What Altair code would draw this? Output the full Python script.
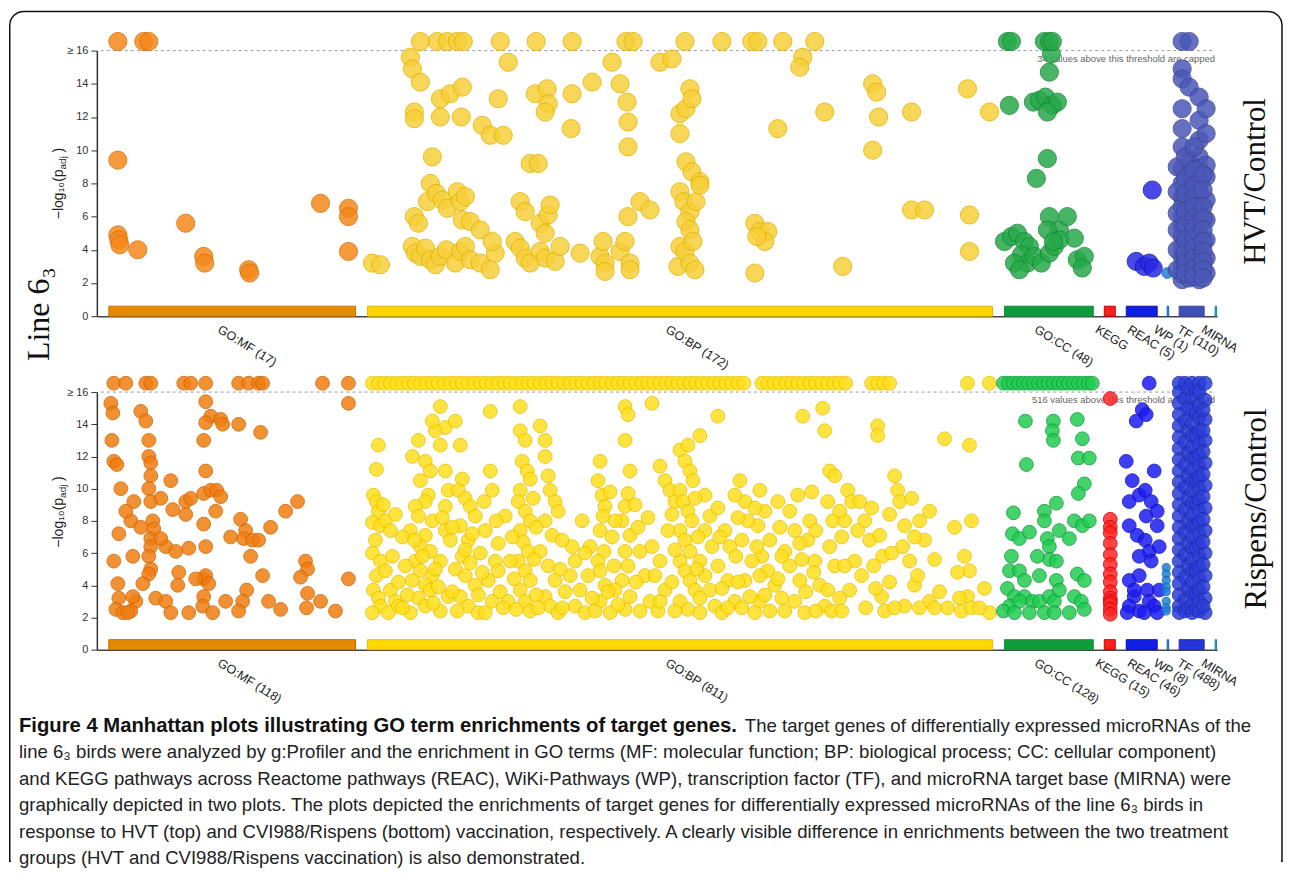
import altair as alt
import pandas as pd

# ---------------- categories / bars ----------------
CATS = ["GO:MF", "GO:BP", "GO:CC", "KEGG", "REAC", "WP", "TF", "MIRNA"]
BAR_START = [108, 367, 1005, 1105, 1127, 1168, 1180, 1216]
BAR_END = [355, 993, 1094, 1116, 1158, 1169.5, 1205, 1217.5]
COUNTS_TOP = ["(17)", "(172)", "(48)", "", "(5)", "(1)", "(110)", ""]
COUNTS_BOT = ["(118)", "(811)", "(128)", "(15)", "(46)", "(8)", "(488)", ""]
CAPPED_TOP = 34
CAPPED_BOT = 516
CAP = 16.55  # plotted position of capped values

# ---------------- top panel (HVT/Control) ----------------
top_mf = [(117, CAP), (143, CAP), (148, CAP), (117, 9.4), (117, 4.9), (118, 4.6), (119, 4.3),
          (137, 4.0), (185, 5.6), (203, 3.6), (204, 3.2), (248, 2.8), (249, 2.6), (320, 6.8),
          (348, 6.5), (348, 6.0), (348, 3.9)]
top_bp_capped = [420, 437, 447, 457, 463, 500, 536, 572, 626, 633, 685, 722, 752, 758, 783, 815]
top_bp = [(410, 15.6), (412, 14.9), (420, 14.1), (414, 12.3), (414, 11.9), (440, 13.1), (450, 13.4),
          (462, 13.8), (440, 12.0), (461, 12.0), (482, 11.5), (490, 10.9), (503, 10.9), (498, 13.1),
          (508, 15.3), (432, 9.6), (535, 13.4), (547, 13.7), (548, 12.8), (545, 12.3), (572, 13.4),
          (592, 14.1), (620, 14.0), (627, 12.9), (612, 15.3), (628, 11.7), (628, 10.2), (571, 11.3),
          (530, 9.2), (538, 9.2), (660, 15.3), (672, 15.5), (680, 12.2), (686, 12.5), (690, 13.7),
          (692, 13.1), (680, 11.0), (686, 9.3), (692, 8.7), (700, 8.1), (778, 11.3), (803, 15.6),
          (800, 15.0), (825, 12.3), (873, 14.0), (877, 13.5), (879, 12.0), (873, 10.0), (912, 12.3),
          (968, 13.7), (990, 12.3),
          (414, 6.0), (418, 5.6), (427, 6.9), (430, 8.0), (436, 7.4), (442, 7.0), (447, 6.5), (457, 7.5),
          (460, 6.9), (462, 5.8), (465, 7.2), (470, 5.7), (480, 5.2), (520, 6.9), (525, 6.3), (540, 5.6),
          (548, 6.1), (550, 6.7), (545, 5.0), (640, 6.9), (650, 6.4), (628, 6.0), (680, 7.5), (684, 6.9),
          (690, 6.3), (696, 6.9), (686, 5.7), (690, 5.2), (700, 7.9), (755, 5.6), (760, 5.1), (768, 5.1),
          (765, 4.5), (912, 6.4), (925, 6.4), (970, 6.1),
          (372, 3.2), (380, 3.1), (412, 4.2), (415, 3.8), (420, 3.6), (425, 4.1), (430, 3.4), (435, 3.1),
          (440, 3.6), (446, 4.0), (455, 3.2), (460, 3.9), (465, 4.2), (470, 3.4), (480, 3.2), (490, 2.8),
          (495, 3.8), (492, 4.5), (515, 4.5), (520, 4.1), (525, 3.5), (530, 3.2), (540, 3.9), (545, 3.5),
          (555, 3.3), (560, 4.2), (580, 3.8), (600, 3.6), (605, 3.2), (620, 3.9), (630, 3.2), (603, 4.5),
          (625, 4.5), (605, 2.7), (630, 2.8), (678, 3.0), (680, 4.2), (685, 3.9), (690, 3.2), (695, 2.8),
          (693, 4.5), (757, 4.8), (755, 2.6), (843, 3.0), (970, 3.9)]
top_cc_capped = [1008, 1012, 1045, 1050, 1053]
top_cc = [(1052, 15.8), (1050, 14.7), (1010, 12.7), (1034, 12.9), (1040, 13.0), (1046, 13.2),
          (1053, 12.7), (1058, 12.9), (1048, 12.3), (1037, 8.3), (1048, 9.5), (1050, 6.0), (1060, 5.2),
          (1068, 6.0), (1075, 4.7), (1005, 4.5), (1012, 4.8), (1018, 5.0), (1025, 4.5), (1030, 4.2),
          (1022, 3.7), (1028, 3.2), (1035, 3.6), (1042, 3.2), (1050, 3.8), (1055, 4.2), (1060, 4.6),
          (1078, 3.4), (1085, 3.6), (1083, 2.9), (1015, 3.2), (1020, 2.8), (1048, 5.2), (1054, 4.5)]
top_reac = [(1153, 7.6), (1137, 3.3), (1145, 3.0), (1150, 3.2), (1154, 2.9)]
top_wp = [(1168, 2.6)]
top_tf_cols = {
    1183: [CAP, 14.9, 14.3, 12.5, 11.3, 10.2, 8.9, 8.0, 7.2, 6.6, 6.0, 5.4, 4.8, 4.2, 3.6, 3.0, 2.5, 2.2],
    1190: [CAP, 13.8, 9.3, 8.5, 7.7, 6.9, 6.3, 5.7, 5.1, 4.5, 3.9, 3.3, 2.7, 2.3],
    1200: [13.2, 11.8, 10.6, 9.6, 8.9, 8.1, 7.5, 6.9, 6.2, 5.5, 4.9, 4.3, 3.7, 3.1, 2.5, 2.2],
    1207: [12.5, 11.0, 9.1, 8.4, 7.0, 5.8, 4.6, 3.5, 2.6],
    1178: [9.0, 7.5, 6.2, 5.2, 4.0, 2.8],
    1186: [9.6, 8.3, 7.4, 6.3, 5.5, 4.6, 3.8, 3.2, 2.6],
    1195: [10.2, 8.8, 7.9, 7.1, 6.6, 5.9, 5.3, 4.7, 4.1, 3.5, 2.9, 2.4],
    1204: [8.5, 7.6, 6.6, 5.9, 5.2, 4.5, 3.9, 3.3, 2.8, 2.3],
}

# ---------------- bottom panel (Rispens/Control) ----------------
bot_mf_capped = [113, 125, 145, 150, 183, 190, 205, 238, 248, 258, 262, 322, 348]
bot_mf = [(110, 15.3), (112, 14.7), (111, 13.0), (113, 11.7), (116, 11.5), (118, 7.2), (113, 5.5),
          (117, 4.1), (118, 3.2), (115, 2.5), (122, 2.3), (140, 14.8), (145, 14.2), (148, 13.0),
          (148, 12.0), (150, 11.6), (150, 10.8), (148, 10.0), (150, 9.2), (152, 8.0), (153, 7.5),
          (150, 6.9), (150, 6.4), (148, 5.8), (150, 5.0), (148, 4.7), (142, 4.1), (135, 3.0), (130, 2.4),
          (155, 3.2), (133, 9.2), (130, 8.0), (132, 5.8), (132, 3.3), (127, 2.3), (170, 10.5), (172, 8.7),
          (165, 6.4), (175, 6.1), (177, 4.0), (165, 3.0), (170, 2.3), (185, 9.2), (190, 9.4), (185, 8.4),
          (188, 6.3), (188, 2.3), (205, 15.4), (210, 14.5), (205, 14.1), (203, 13.0), (205, 11.1),
          (203, 9.7), (210, 9.9), (215, 8.6), (203, 7.8), (205, 6.4), (203, 4.4), (205, 4.6), (208, 4.1),
          (203, 3.3), (202, 2.7), (212, 2.3), (216, 9.9), (220, 14.3), (222, 14.0), (220, 9.5),
          (238, 14.0), (240, 8.1), (245, 7.4), (243, 6.9), (252, 6.8), (250, 5.8), (246, 3.7), (242, 3.0),
          (238, 2.4), (260, 13.5), (258, 6.8), (262, 4.6), (280, 2.5), (297, 9.2), (305, 5.5), (307, 5.0),
          (307, 3.5), (306, 2.6), (348, 15.3), (348, 4.4),
          (120, 10.0), (125, 8.6), (140, 7.6), (160, 9.4), (160, 6.9), (178, 4.8), (195, 4.4), (225, 3.0),
          (230, 7.0), (268, 3.0), (270, 7.6), (285, 8.6), (300, 4.5), (320, 3.0), (335, 2.4)]
bot_bp_capped = [372, 378, 384, 390, 396, 402, 408, 414, 420, 426, 432, 438, 444, 450, 456, 462, 468,
                 474, 480, 486, 492, 498, 504, 510, 516, 522, 528, 534, 540, 546, 552, 558, 564, 570,
                 576, 582, 588, 594, 600, 606, 612, 618, 624, 630, 636, 642, 648, 654, 660, 666, 672,
                 678, 684, 690, 696, 702, 708, 714, 720, 726, 732, 738, 744, 762, 768, 774, 780, 786,
                 792, 798, 804, 810, 816, 822, 828, 834, 840, 846, 872, 878, 884, 890, 968, 990]
bot_bp = [(378, 12.7), (376, 11.2), (373, 9.6), (376, 9.2), (378, 8.6), (372, 7.9), (380, 7.7),
          (375, 6.8), (372, 6.0), (380, 5.5), (376, 4.6), (373, 3.7), (378, 3.2), (380, 2.7), (372, 2.3),
          (385, 8.0), (390, 7.4), (392, 5.8), (385, 4.9), (390, 3.7), (395, 3.0), (388, 2.3), (398, 2.7),
          (412, 12.0), (418, 13.0), (425, 11.7), (430, 11.1), (420, 10.5), (428, 9.6), (425, 9.2),
          (415, 8.9), (418, 8.3), (432, 8.0), (410, 7.4), (425, 7.1), (420, 6.4), (430, 6.1), (415, 5.5),
          (420, 4.9), (432, 4.6), (412, 4.3), (425, 4.0), (430, 3.7), (418, 3.2), (425, 2.7), (440, 2.4),
          (410, 2.3), (445, 7.4), (440, 5.5), (448, 3.3), (440, 15.1), (445, 13.8), (435, 13.6),
          (432, 14.2), (440, 12.7), (445, 11.1), (448, 9.9), (445, 8.9), (450, 6.8),
          (455, 14.2), (460, 12.7), (462, 10.6), (458, 9.9), (465, 9.4), (470, 8.9), (475, 8.3),
          (460, 7.7), (468, 6.8), (462, 5.8), (470, 5.4), (465, 4.6), (475, 4.0), (460, 3.3), (468, 2.7),
          (478, 2.3), (490, 11.1), (492, 9.9), (485, 7.4), (495, 5.5), (488, 4.3), (492, 3.0), (485, 2.3),
          (498, 4.9), (490, 14.8),
          (520, 15.1), (520, 13.6), (525, 13.0), (522, 11.7), (527, 11.1), (530, 10.6), (520, 9.9),
          (518, 9.2), (525, 8.6), (530, 8.0), (520, 7.4), (523, 6.7), (528, 6.1), (518, 5.5), (525, 4.9),
          (530, 4.3), (520, 3.7), (525, 3.0), (530, 2.4), (540, 13.9), (545, 13.0), (545, 12.0),
          (548, 10.8), (550, 9.9), (555, 9.2), (545, 8.0), (552, 7.1), (540, 6.1), (548, 5.2), (555, 4.3),
          (545, 3.3), (550, 2.7), (558, 2.3), (505, 8.3), (510, 5.5), (508, 3.0),
          (572, 6.4), (575, 5.5), (570, 4.6), (580, 3.7), (575, 2.7), (585, 2.3), (600, 11.7), (598, 10.5),
          (602, 9.6), (605, 8.9), (603, 8.3), (600, 7.4), (604, 6.1), (598, 5.5), (600, 4.9), (605, 4.0),
          (600, 3.0), (610, 2.3), (625, 15.1), (628, 14.6), (625, 13.0), (630, 11.1), (628, 9.7),
          (625, 8.9), (622, 8.0), (630, 7.1), (625, 6.1), (628, 5.2), (622, 4.3), (630, 3.3), (625, 2.5),
          (640, 6.1), (645, 4.6), (650, 3.0), (615, 8.0), (615, 3.7), (590, 6.4),
          (652, 15.3), (660, 11.4), (665, 10.5), (670, 9.9), (675, 9.2), (680, 12.4), (688, 12.7),
          (685, 11.7), (690, 11.1), (693, 10.5), (680, 9.9), (683, 9.2), (688, 8.6), (692, 8.0),
          (680, 7.4), (685, 6.8), (690, 6.1), (680, 5.5), (685, 4.9), (690, 4.3), (695, 3.7), (680, 3.0),
          (688, 2.5), (700, 2.3), (700, 13.3), (705, 9.6), (710, 8.3), (705, 7.4), (712, 6.4), (700, 5.5),
          (705, 4.6), (710, 3.7), (715, 2.7), (725, 7.4), (730, 6.4), (728, 4.3), (735, 3.0), (722, 2.3),
          (668, 7.4), (660, 5.5), (665, 3.7), (658, 2.4), (718, 14.5),
          (760, 9.9), (765, 8.6), (758, 7.7), (770, 6.8), (762, 5.8), (768, 4.9), (775, 4.0), (760, 3.0),
          (770, 2.4), (740, 10.5), (745, 9.2), (748, 8.0), (742, 6.8), (752, 5.5), (745, 4.3), (750, 3.3),
          (755, 2.3), (790, 8.6), (795, 7.4), (785, 6.1), (790, 5.2), (800, 4.3), (795, 3.0), (805, 2.3),
          (803, 14.5), (810, 8.0), (808, 6.8), (815, 5.5), (820, 4.0), (825, 2.7), (823, 15.0),
          (825, 13.6), (830, 11.1), (835, 10.8), (828, 9.2), (833, 8.0), (830, 6.4), (835, 5.2),
          (828, 3.7), (832, 2.4),
          (848, 9.9), (852, 9.2), (845, 8.0), (855, 5.5), (850, 3.7), (860, 9.2), (865, 8.0), (870, 6.8),
          (878, 13.9), (878, 13.3), (880, 7.1), (883, 5.8), (882, 3.3), (885, 2.4), (895, 10.8),
          (898, 9.9), (900, 9.2), (905, 7.7), (903, 6.4), (910, 5.5), (915, 4.0), (905, 2.7), (920, 8.0),
          (925, 6.8), (930, 3.0), (935, 2.6), (945, 13.1), (948, 2.6), (962, 2.4), (970, 12.7),
          (972, 8.0), (970, 4.9), (968, 3.3), (972, 2.6), (990, 2.3)]
bot_bp_more = [(383, 9.0), (395, 8.4), (402, 7.0), (405, 5.2), (398, 4.2), (407, 3.4), (402, 2.6),
               (414, 6.8), (422, 5.8), (435, 5.0), (438, 3.9), (433, 2.9), (442, 8.2), (452, 7.6),
               (455, 5.0), (452, 3.6), (457, 2.4), (465, 6.2), (472, 7.2), (480, 6.0), (482, 4.8),
               (478, 3.4), (484, 9.2), (496, 8.0), (498, 6.6), (500, 3.6), (503, 2.6), (512, 7.0),
               (514, 4.4), (516, 2.5), (533, 9.4), (536, 7.6), (534, 5.6), (536, 3.4), (538, 2.6),
               (558, 8.6), (562, 6.8), (560, 5.0), (565, 3.6), (562, 2.6), (582, 8.0), (585, 6.0),
               (588, 4.6), (592, 3.2), (595, 2.4), (610, 9.8), (612, 7.0), (614, 5.2), (608, 3.6),
               (618, 2.8), (635, 9.0), (638, 7.6), (636, 4.2), (640, 2.4), (648, 8.2), (652, 6.4),
               (655, 4.6), (660, 3.0), (672, 8.4), (675, 6.2), (672, 4.2), (675, 2.4), (695, 9.4),
               (698, 7.0), (697, 5.0), (700, 3.2), (718, 8.8), (720, 7.0), (718, 5.2), (722, 3.8),
               (728, 2.6), (735, 9.6), (738, 8.2), (736, 5.8), (738, 4.2), (742, 2.6), (755, 8.8),
               (757, 6.4), (760, 4.6), (765, 3.4), (778, 9.2), (780, 7.6), (782, 5.8), (778, 4.4),
               (782, 3.2), (785, 2.4), (798, 9.6), (800, 6.6), (802, 5.6), (806, 3.6), (812, 9.8),
               (816, 7.4), (814, 4.8), (816, 2.4), (840, 8.6), (842, 7.0), (845, 5.2), (840, 3.2),
               (842, 2.4), (858, 7.4), (862, 4.6), (866, 2.6), (872, 8.8), (874, 5.2), (876, 3.8),
               (890, 8.4), (892, 6.0), (890, 4.2), (895, 2.6), (912, 9.4), (915, 7.0), (918, 4.6),
               (920, 2.6), (930, 8.6), (935, 5.6), (940, 3.6), (955, 7.6), (958, 4.8), (960, 3.2),
               (965, 5.8), (985, 3.8), (980, 2.6)]
bot_cc_capped = [1004, 1009, 1014, 1019, 1024, 1029, 1034, 1039, 1044, 1049, 1054, 1059, 1064, 1069,
                 1074, 1079, 1084, 1089, 1093]
bot_cc = [(1026, 14.2), (1054, 14.2), (1078, 14.3), (1053, 13.6), (1054, 13.0), (1083, 13.1),
          (1027, 11.5), (1079, 11.9), (1090, 11.9), (1085, 10.3), (1079, 9.7), (1014, 8.5), (1045, 8.6),
          (1057, 9.1), (1045, 8.0), (1013, 7.2), (1020, 6.9), (1030, 7.3), (1048, 6.9), (1050, 6.4),
          (1060, 7.4), (1070, 6.9), (1075, 8.0), (1083, 7.7), (1090, 8.0), (1050, 5.6), (1038, 5.8),
          (1012, 5.8), (1010, 4.9), (1020, 4.9), (1025, 4.3), (1040, 4.6), (1057, 5.5), (1057, 4.3),
          (1078, 4.7), (1085, 4.3), (1008, 3.8), (1015, 3.3), (1025, 3.3), (1033, 3.0), (1010, 2.7),
          (1020, 3.0), (1040, 3.0), (1050, 3.3), (1055, 3.0), (1060, 3.7), (1075, 3.3), (1082, 3.0),
          (1004, 2.4), (1015, 2.3), (1030, 2.3), (1045, 2.3), (1055, 2.3), (1070, 2.3), (1085, 2.5)]
bot_kegg = [(1111, 15.6), (1111, 8.1), (1111, 7.6), (1111, 7.25), (1111, 6.6), (1111, 5.9), (1111, 5.3),
            (1111, 4.7), (1111, 4.2), (1111, 3.6), (1111, 3.2), (1111, 3.0), (1111, 2.85), (1111, 2.5),
            (1111, 2.2)]
bot_reac = [(1150, CAP), (1143, 14.9), (1137, 14.2), (1147, 14.6), (1127, 11.7), (1133, 10.5),
            (1155, 11.1), (1130, 9.2), (1140, 9.6), (1146, 9.9), (1152, 9.2), (1147, 8.3), (1158, 8.6),
            (1130, 7.7), (1138, 7.1), (1146, 6.8), (1150, 6.1), (1158, 7.7), (1160, 6.4), (1140, 5.8),
            (1152, 5.5), (1130, 4.3), (1140, 4.6), (1148, 3.7), (1135, 3.3), (1150, 3.0), (1130, 2.7),
            (1140, 2.4), (1155, 2.7), (1145, 2.3), (1160, 3.7), (1128, 2.3), (1158, 2.3), (1135, 3.7)]
bot_wp = [(1167, 5.1), (1167, 4.7), (1167, 4.3), (1167, 3.9), (1167, 3.6), (1167, 3.0), (1167, 2.6),
          (1167, 2.4)]
bot_tf_cols = {
    1180: [CAP, 16.0, 15.3, 14.6, 13.9, 13.2, 12.5, 11.8, 11.1, 10.4, 9.7, 9.0, 8.3, 7.6, 6.9, 6.2, 5.5,
           4.8, 4.1, 3.4, 2.7, 2.3],
    1186: [CAP, 15.6, 14.2, 12.9, 11.5, 10.1, 8.7, 7.3, 5.9, 4.5, 3.1, 2.4],
    1189: [16.2, 15.0, 13.6, 12.2, 10.8, 9.4, 8.0, 6.6, 5.2, 3.8, 2.6],
    1193: [CAP, 15.7, 14.9, 14.1, 13.3, 12.6, 11.9, 11.2, 10.5, 9.8, 9.1, 8.4, 7.7, 7.0, 6.3, 5.6, 4.9,
           4.2, 3.5, 2.8, 2.3],
    1197: [16.1, 14.7, 13.3, 11.9, 10.5, 9.1, 7.7, 6.3, 4.9, 3.5, 2.5],
    1200: [CAP, 16.0, 15.2, 14.4, 13.6, 12.8, 12.1, 11.4, 10.7, 10.0, 9.3, 8.6, 7.9, 7.2, 6.5, 5.8, 5.1,
           4.4, 3.7, 3.0, 2.4],
    1206: [CAP, 15.5, 14.3, 13.0, 11.6, 10.2, 8.8, 7.4, 6.0, 4.6, 3.2, 2.3],
    1204: [14.9, 13.6, 12.3, 10.9, 9.5, 8.1, 6.7, 5.3, 3.9, 2.7],
}

CAPTION_BOLD = "Figure 4  Manhattan plots illustrating GO term enrichments of target genes."
CAPTION_LINES = [
    "The target genes of differentially expressed microRNAs of the",
    "line 6\u2083 birds were analyzed by g:Profiler and the enrichment in GO terms (MF: molecular function; BP: biological process; CC: cellular component)",
    "and KEGG pathways across Reactome pathways (REAC), WiKi-Pathways (WP), transcription factor (TF), and microRNA target base (MIRNA) were",
    "graphically depicted in two plots. The plots depicted the enrichments of target genes for differentially expressed microRNAs of the line 6\u2083 birds in",
    "response to HVT (top) and CVI988/Rispens (bottom) vaccination, respectively. A clearly visible difference in enrichments between the two treatment",
    "groups (HVT and CVI988/Rispens vaccination) is also demonstrated.",
]

# ---------------- styles ----------------
TOP_PT = ["#F5891C", "#F7CF3A", "#27A94B", "#FF2B2B", "#2A2AE6", "#1E7FD8", "#4B58B8", "#26A9CC"]
TOP_STROKE = ["#D86F00", "#E3B400", "#178A35", "#CC0000", "#1515B0", "#1565B0", "#3A4699", "#1C86A3"]
BOT_PT = ["#F07E10", "#FFE01E", "#22CC52", "#FF2525", "#1C1CF2", "#1E7FD8", "#2B3ED8", "#26A9CC"]
BOT_STROKE = ["#CF6400", "#EAC000", "#12993A", "#D00000", "#0F0FB8", "#1565B0", "#1E2CA8", "#1C86A3"]
TOP_BAR = ["#E68A00", "#FFD700", "#0E9C3A", "#FF1E1E", "#0F1FE8", "#2A8FE0", "#3F4FB5", "#2AA8D0"]
BOT_BAR = ["#E68A00", "#FFD700", "#0E9C3A", "#FF1E1E", "#0F1FE8", "#2A8FE0", "#2436D8", "#2AA8D0"]

W = 1122
X0 = 96
H_TOP = 266
H_BOT = 258
SANS = "Liberation Sans"
SERIF = "Liberation Serif"


def build_points(groups, capped, tf_cols):
    rows = []
    for cat, pts in groups:
        for x, v in pts:
            rows.append({"cat": cat, "x": x, "v": v})
    for cat, xs in capped:
        for x in xs:
            rows.append({"cat": cat, "x": x, "v": CAP})
    for x, vals in tf_cols.items():
        for v in vals:
            rows.append({"cat": "TF", "x": x, "v": v})
    return pd.DataFrame(rows)


top_points = build_points(
    [("GO:MF", top_mf), ("GO:BP", top_bp), ("GO:CC", top_cc), ("REAC", top_reac), ("WP", top_wp)],
    [("GO:BP", top_bp_capped), ("GO:CC", top_cc_capped)], top_tf_cols)
bot_points = build_points(
    [("GO:MF", bot_mf), ("GO:BP", bot_bp), ("GO:BP", bot_bp_more), ("GO:CC", bot_cc),
     ("KEGG", bot_kegg), ("REAC", bot_reac), ("WP", bot_wp)],
    [("GO:MF", bot_mf_capped), ("GO:BP", bot_bp_capped), ("GO:CC", bot_cc_capped)], bot_tf_cols)

one = pd.DataFrame({"k": [0]})


def panel(points, counts, n_capped, H, pt_cols, stroke_cols, bar_cols, pt_size, side_label,
          side_xy, title_junction, extra=None):
    xs = alt.Scale(domain=[X0, X0 + W], nice=False, zero=False)
    ys = alt.Scale(domain=[0, 16], nice=False, zero=False)
    xaxis = alt.Axis(labels=False, ticks=False, title=None, grid=False, domainColor="#444",
                     domainWidth=1.5)
    yaxis = alt.Axis(values=list(range(0, 17, 2)), title=None, grid=False,
                     labelExpr="datum.value == 16 ? '\u2265 16' : datum.label",
                     domainColor="#333", domainWidth=1.5, tickColor="#333", tickSize=6,
                     labelFont=SANS, labelFontSize=11, labelColor="#333", labelPadding=3)
    stroke_scale = alt.Scale(domain=CATS, range=stroke_cols)

    thr = pd.DataFrame({"x0": [100], "x1": [1216], "t": [16]})
    rule = alt.Chart(thr).mark_rule(strokeDash=[3, 3], color="#9a9a9a", strokeWidth=1).encode(
        x=alt.X("x0:Q", scale=xs, axis=xaxis), x2="x1:Q",
        y=alt.Y("t:Q", scale=ys, axis=yaxis))

    note = alt.Chart(one).mark_text(align="right", baseline="top", fontSize=9.5, font=SANS,
                                     color="#666").encode(
        x=alt.value(1216 - X0), y=alt.value(3),
        text=alt.value(f"{n_capped} values above this threshold are capped"))

    bars_df = pd.DataFrame({"cat": CATS, "start": BAR_START, "end": BAR_END})
    bars = alt.Chart(bars_df).mark_rect(strokeWidth=1).encode(
        x=alt.X("start:Q", scale=xs, axis=xaxis), x2="end:Q",
        y=alt.value(H - 10), y2=alt.value(H),
        fill=alt.Fill("cat:N", scale=alt.Scale(domain=CATS, range=bar_cols), legend=None),
        stroke=alt.Stroke("cat:N", scale=stroke_scale, legend=None))

    pts = alt.Chart(points).mark_circle(opacity=0.85, strokeWidth=1).encode(
        x=alt.X("x:Q", scale=xs, axis=xaxis),
        y=alt.Y("v:Q", scale=ys, axis=yaxis),
        color=alt.Color("cat:N", scale=alt.Scale(domain=CATS, range=pt_cols), legend=None),
        stroke=alt.Stroke("cat:N", scale=stroke_scale, legend=None),
        size=alt.condition(alt.datum.cat == "WP", alt.value(pt_size * 0.35), alt.value(pt_size)))

    lab_df = pd.DataFrame({"cat": CATS,
                           "lx": [(s + e) / 2 - 10 for s, e in zip(BAR_START, BAR_END)],
                           "label": [(c + " " + n).strip() for c, n in zip(CATS, counts)]})
    labels = alt.Chart(lab_df).mark_text(angle=32, align="left", baseline="top", fontSize=12.5,
                                         font=SANS, color="#222").encode(
        x=alt.X("lx:Q", scale=xs, axis=xaxis), y=alt.value(H + 7), text="label:N")

    t1 = alt.Chart(one).mark_text(angle=270, align="right", baseline="middle", fontSize=14,
                                  font=SANS, color="#222").encode(
        x=alt.value(58 - X0), y=alt.value(title_junction), text=alt.value("\u2212log\u2081\u2080(p"))
    t2 = alt.Chart(one).mark_text(angle=270, align="left", baseline="middle", fontSize=10,
                                  font=SANS, color="#222").encode(
        x=alt.value(62 - X0), y=alt.value(title_junction), text=alt.value("adj"))
    t3 = alt.Chart(one).mark_text(angle=270, align="left", baseline="middle", fontSize=14,
                                  font=SANS, color="#222").encode(
        x=alt.value(58 - X0), y=alt.value(title_junction - 17), text=alt.value(")"))

    side = alt.Chart(one).mark_text(angle=270, align="center", baseline="middle", fontSize=31,
                                    font=SERIF, color="#111").encode(
        x=alt.value(side_xy[0]), y=alt.value(side_xy[1]), text=alt.value(side_label))

    layers = [rule, note, bars, pts, labels, t1, t2, t3, side]
    if extra:
        layers = extra + layers
    return alt.layer(*layers).properties(width=W, height=H)


# figure frame and left label (drawn in the top panel's coordinates)
frame = alt.Chart(one).mark_rect(fillOpacity=0, stroke="#111", strokeWidth=1.5,
                                 cornerRadiusTopLeft=14, cornerRadiusTopRight=14).encode(
    x=alt.value(-87.25), x2=alt.value(1187), y=alt.value(-39.25), y2=alt.value(812))
frame_cut = alt.Chart(one).mark_rule(color="white", strokeWidth=3).encode(
    x=alt.value(-86), x2=alt.value(1186), y=alt.value(812))
line_label = alt.Chart(one).mark_text(angle=270, align="center", baseline="middle", fontSize=32,
                                      font=SERIF, color="#111").encode(
    x=alt.value(38 - X0), y=alt.value(313 - 49), text=alt.value("Line 6\u2083"))

top = panel(top_points, COUNTS_TOP, CAPPED_TOP, H_TOP, TOP_PT, TOP_STROKE, TOP_BAR, 330,
            "HVT/Control", (1257 - X0, 180 - 49), 168 - 49,
            extra=[frame, frame_cut, line_label])

# caption (drawn in the bottom panel's coordinates)
cap_layers = []
cap_y0 = 725 - 391
cap_step = 26.6
cap_layers.append(alt.Chart(one).mark_text(align="left", baseline="middle", fontSize=20.3,
                                           font=SANS, fontWeight="bold", color="#111").encode(
    x=alt.value(18 - X0), y=alt.value(cap_y0), text=alt.value(CAPTION_BOLD)))
for i, line in enumerate(CAPTION_LINES):
    cap_layers.append(alt.Chart(one).mark_text(align="left", baseline="middle", fontSize=18.6,
                                               font=SANS, color="#222").encode(
        x=alt.value((745 if i == 0 else 18) - X0), y=alt.value(cap_y0 + i * cap_step),
        text=alt.value(line)))

bottom = panel(bot_points, COUNTS_BOT, CAPPED_BOT, H_BOT, BOT_PT, BOT_STROKE, BOT_BAR, 190,
               "Rispens/Control", (1258 - X0, 508 - 391), 497 - 391, extra=cap_layers)

chart = alt.vconcat(top, bottom, spacing=76, bounds="flush").resolve_scale(
    x="independent", y="independent", color="independent", fill="independent",
    stroke="independent", size="independent"
).properties(
    padding={"left": 0, "top": 1, "right": 0, "bottom": 0}
).configure_view(stroke="transparent")

chart.save("out.html", embed_options={"renderer": "svg", "actions": False})
